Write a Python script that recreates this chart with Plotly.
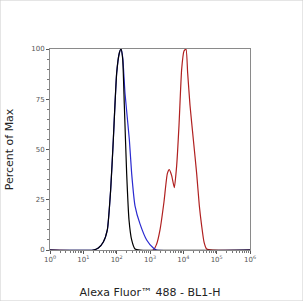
import plotly.graph_objects as go

# log10 fluorescence positions and percent-of-max values
black_log = [0, 1.3, 1.45, 1.6, 1.72, 1.82, 1.9, 2.0, 2.08, 2.13, 2.18, 2.23, 2.3, 2.37, 2.45, 2.55, 2.7, 6]
black_pct = [0, 0, 1, 4, 10, 30, 55, 88, 98, 100, 95, 72, 38, 15, 5, 0.5, 0, 0]

blue_log = [0, 1.3, 1.45, 1.6, 1.72, 1.82, 1.9, 2.0, 2.08, 2.13, 2.18, 2.25, 2.38, 2.45, 2.55, 2.7, 2.9, 3.1, 3.2, 6]
blue_pct = [0, 0, 1, 4, 10, 30, 55, 88, 98, 100, 96, 78, 55, 38, 22, 13, 5, 1, 0, 0]

red_log = [0, 3.1, 3.2, 3.3, 3.42, 3.52, 3.58, 3.65, 3.73, 3.8, 3.87, 3.95, 4.02, 4.08, 4.13, 4.2, 4.3, 4.4, 4.48, 4.55, 4.62, 4.7, 6]
red_pct = [0, 0, 3, 10, 24, 38, 40, 37, 31, 42, 62, 90, 99, 100, 88, 72, 55, 38, 22, 12, 4, 0.5, 0]

x_tickvals = [1, 10, 100, 1000, 10000, 100000, 1000000]
x_ticktext = ["10<sup>0</sup>", "10<sup>1</sup>", "10<sup>2</sup>", "10<sup>3</sup>",
              "10<sup>4</sup>", "10<sup>5</sup>", "10<sup>6</sup>"]
x_minorvals = [m * d for d in x_tickvals[:-1] for m in range(2, 10)]
y_tickvals = [0, 25, 50, 75, 100]

fig = go.Figure()
for lg, pc, col in [(red_log, red_pct, "#b02020"), (blue_log, blue_pct, "#2a2ad0"), (black_log, black_pct, "#000000")]:
    fig.add_trace(go.Scatter(x=[10 ** v for v in lg], y=pc, mode="lines",
                             line=dict(color=col, width=1.2, shape="spline", smoothing=0.5),
                             hoverinfo="skip", showlegend=False))

axis_common = dict(showline=True, linecolor="#8a8a8a", linewidth=1, mirror=True,
                   showgrid=False, zeroline=False, ticks="outside", ticklen=3, automargin=False,
                   tickcolor="#555555", tickfont=dict(size=7, color="#555555", family="DejaVu Sans"))

fig.update_xaxes(type="log", range=[0, 6], tickmode="array", tickvals=x_tickvals, ticktext=x_ticktext,
                 minor=dict(ticks="outside", ticklen=2, tickmode="array", tickvals=x_minorvals,
                            tickcolor="#777777", showgrid=False),
                 title=dict(text="Alexa Fluor™ 488 - BL1-H", font=dict(size=11, color="#222222", family="DejaVu Sans"), standoff=24),
                 **axis_common)
fig.update_yaxes(range=[0, 100], tickvals=y_tickvals,
                 minor=dict(ticks="outside", ticklen=2, dtick=5, tickcolor="#777777", showgrid=False),
                 title=dict(text="Percent of Max", font=dict(size=11, color="#222222", family="DejaVu Sans"), standoff=15),
                 **axis_common)

fig.update_layout(width=303, height=301, margin=dict(l=50, r=53, t=49, b=51),
                  paper_bgcolor="white", plot_bgcolor="white")
fig.add_shape(type="rect", xref="paper", yref="paper", x0=-50/200, x1=1+53/200, y0=-51/201, y1=1+49/201,
              line=dict(color="#cccccc", width=1))
fig.write_html("out.html")
